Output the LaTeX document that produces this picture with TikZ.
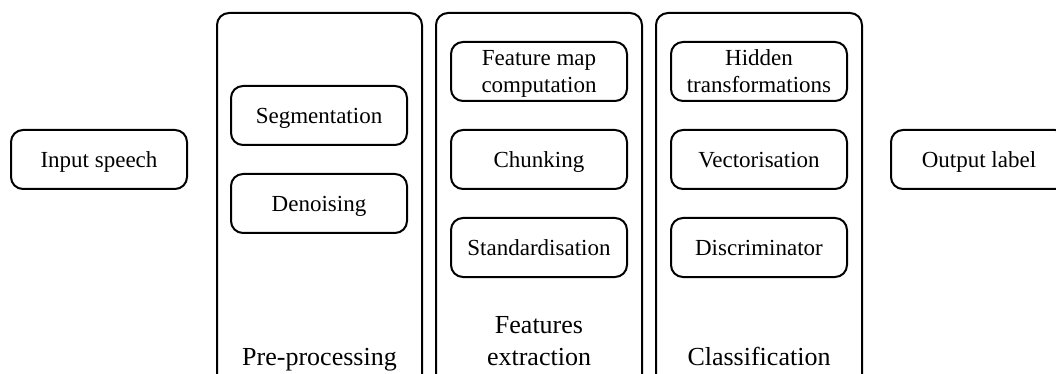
\documentclass[tikz,border=0pt]{standalone}
\usepackage{fontspec}
\setmainfont{Liberation Serif}
\begin{document}
\begin{tikzpicture}[x=0.5pt,y=-0.5pt,
  stepbox/.style={draw, line width=1pt, rounded corners=6pt,
    minimum width=88pt, minimum height=29.5pt, inner sep=0pt,
    align=center, font=\fontsize{11.5}{13.5}\selectfont,
    text height=7.6pt, text depth=0pt},
  twoline/.style={text height=21.1pt},
  stagebox/.style={draw, line width=1pt, rounded corners=6pt,
    minimum height=193.5pt, inner sep=0pt},
  stagelabel/.style={align=center, font=\fontsize{13}{16}\selectfont, inner sep=0pt}]
\clip (0,0) rectangle (1056,374);
\useasboundingbox (0,0) rectangle (1056,374);

% stage frames (open towards the bottom edge)
\node[stagebox, minimum width=102.5pt] (pre) at (319.5,206.5) {};
\node[stagebox, minimum width=103pt] (feat) at (539,206.5) {};
\node[stagebox, minimum width=103pt] (cls) at (759,206.5) {};

% stage titles
\node[stagelabel, anchor=base] (prelab) at (319.5,365) {Pre-processing};
\node[stagelabel, anchor=base] (featlab) at (539,365) {Features\\extraction};
\node[stagelabel, anchor=base] (clslab) at (759,365) {Classification};

% input and output
\node[stepbox] (in) at (99,159.5) {Input speech};
\node[stepbox] (out) at (979,159.5) {Output label};

% pre-processing steps
\node[stepbox] (seg) at (319,115.5) {Segmentation};
\node[stepbox] (den) at (319,203.5) {Denoising};

% feature extraction steps
\node[stepbox, twoline] (fmap) at (539,71.5) {Feature map\\computation};
\node[stepbox] (chunk) at (539,159.5) {Chunking};
\node[stepbox] (std) at (539,247.5) {Standardisation};

% classification steps
\node[stepbox, twoline] (hid) at (759,71.5) {Hidden\\transformations};
\node[stepbox] (vec) at (759,159.5) {Vectorisation};
\node[stepbox] (disc) at (759,247.5) {Discriminator};
\end{tikzpicture}
\end{document}
